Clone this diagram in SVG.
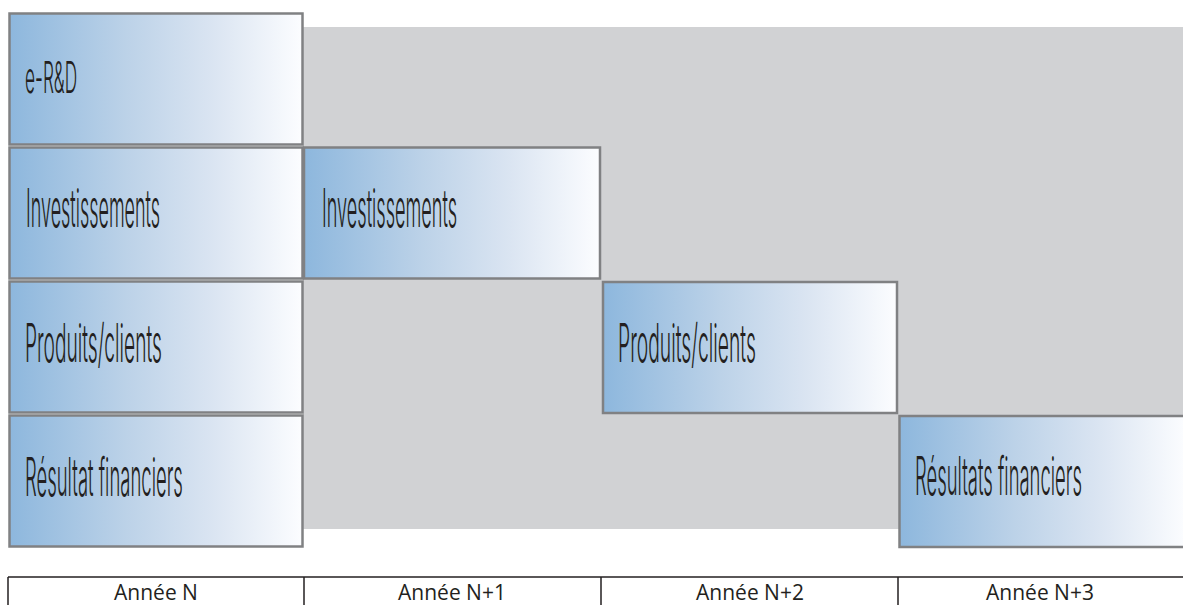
<svg xmlns="http://www.w3.org/2000/svg" width="1183" height="605" viewBox="0 0 1183 605">
  <defs>
    <linearGradient id="grad" x1="0" y1="0" x2="1" y2="0">
      <stop offset="0" stop-color="#8db7dd"/>
      <stop offset="0.4" stop-color="#bcd2e8"/>
      <stop offset="0.7" stop-color="#dbe5f2"/>
      <stop offset="1" stop-color="#fcfdff"/>
    </linearGradient>
    <style>
      .box { fill: url(#grad); stroke: #808183; stroke-width: 2.5; }
      .lbl { font-family: Inter, "Liberation Sans", sans-serif; font-weight: 300; fill: #231f20; font-size: 53px; }
      .yr { font-family: "Open Sans", "Noto Sans", sans-serif; fill: #231f20; font-size: 21px; text-anchor: middle; }
      .tl { stroke: #231f20; stroke-width: 1.5; fill: none; }
    </style>
  </defs>
  <rect x="0" y="0" width="1183" height="605" fill="#ffffff"/>
  <rect id="background" x="303" y="27" width="880" height="502" fill="#d1d2d4"/>

  <g id="n-erd">
    <rect class="box" x="9.5" y="13.5" width="293" height="131"/>
    <text class="lbl" transform="translate(25,93) scale(0.35,1)" x="0" y="0" style="font-size:43px" textLength="149" lengthAdjust="spacingAndGlyphs">e-R&amp;D</text>
  </g>
  <g id="n-invest1">
    <rect class="box" x="9.5" y="147.5" width="293" height="131"/>
    <text class="lbl" transform="translate(26,227) scale(0.35,1)" x="0" y="0" textLength="383" lengthAdjust="spacingAndGlyphs">Investissements</text>
  </g>
  <g id="n-prod1">
    <rect class="box" x="9.5" y="281.5" width="293" height="131"/>
    <text class="lbl" transform="translate(25,362) scale(0.35,1)" x="0" y="0" textLength="391" lengthAdjust="spacingAndGlyphs">Produits/clients</text>
  </g>
  <g id="n-res1">
    <rect class="box" x="9.5" y="415.5" width="293" height="131"/>
    <text class="lbl" transform="translate(25,496) scale(0.35,1)" x="0" y="0" textLength="451" lengthAdjust="spacingAndGlyphs">Résultat financiers</text>
  </g>

  <g id="n-invest2">
    <rect class="box" x="304" y="147.5" width="296" height="131"/>
    <text class="lbl" transform="translate(322,227) scale(0.35,1)" x="0" y="0" textLength="386" lengthAdjust="spacingAndGlyphs">Investissements</text>
  </g>
  <g id="n-prod2">
    <rect class="box" x="603" y="282" width="294" height="131"/>
    <text class="lbl" transform="translate(618,362) scale(0.35,1)" x="0" y="0" textLength="394" lengthAdjust="spacingAndGlyphs">Produits/clients</text>
  </g>
  <g id="n-res2">
    <rect class="box" x="899.5" y="416" width="287" height="131"/>
    <text class="lbl" transform="translate(915,495) scale(0.35,1)" x="0" y="0" textLength="477" lengthAdjust="spacingAndGlyphs">Résultats financiers</text>
  </g>

  <g id="timeline">
    <line class="tl" x1="8" y1="577" x2="1183" y2="577"/>
    <line class="tl" x1="8" y1="577" x2="8" y2="605"/>
    <line class="tl" x1="304" y1="577" x2="304" y2="605"/>
    <line class="tl" x1="601" y1="577" x2="601" y2="605"/>
    <line class="tl" x1="898" y1="577" x2="898" y2="605"/>
    <text class="yr" x="156" y="600">Année N</text>
    <text class="yr" x="452" y="600">Année N+1</text>
    <text class="yr" x="750" y="600">Année N+2</text>
    <text class="yr" x="1040" y="600">Année N+3</text>
  </g>
</svg>
